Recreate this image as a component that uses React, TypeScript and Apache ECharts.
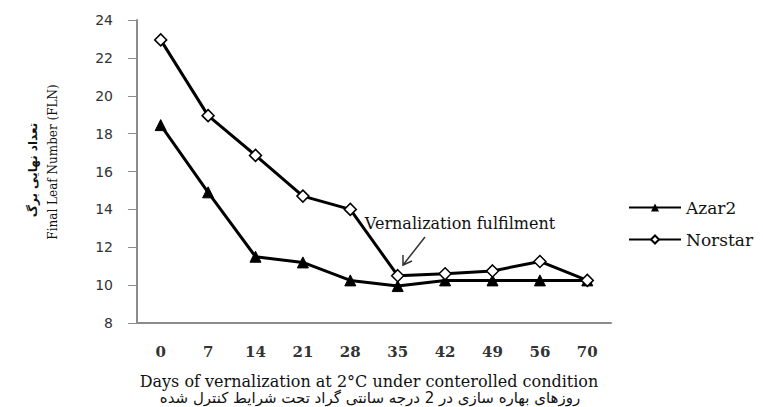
import React, { useEffect, useRef } from "react";
import * as echarts from "echarts";

const categories = ["0", "7", "14", "21", "28", "35", "42", "49", "56", "70"];
const azar2 = [18.45, 14.9, 11.5, 11.2, 10.25, 9.95, 10.25, 10.25, 10.25, 10.25];
const norstar = [22.95, 18.95, 16.85, 14.7, 14.0, 10.5, 10.6, 10.75, 11.25, 10.25];
const yTicks = { min: 8, max: 24, interval: 2 };

const serif = "DejaVu Serif";

export default function App() {
  const ref = useRef<HTMLDivElement>(null);
  useEffect(() => {
    if (!ref.current) return;
    const chart = echarts.init(ref.current, null, { renderer: "svg" });
    chart.setOption({
      animation: false,
      backgroundColor: "#ffffff",
      grid: { left: 137, top: 20, width: 474, height: 303 },
      legend: {
        orient: "vertical",
        left: 623,
        top: 194,
        itemWidth: 52,
        itemHeight: 10,
        itemGap: 15,
        textStyle: { fontFamily: serif, fontSize: 17, color: "#111" },
        data: ["Azar2", "Norstar"],
      },
      xAxis: {
        type: "category",
        data: categories,
        boundaryGap: true,
        axisLine: { lineStyle: { color: "#8c8c8c", width: 2 } },
        axisTick: { alignWithLabel: true, length: 4, interval: 0, lineStyle: { color: "#8c8c8c" } },
        axisLabel: { margin: 21, interval: 0, fontFamily: serif, fontSize: 15, fontWeight: "bold", color: "#333" },
        splitLine: { show: false },
      },
      yAxis: {
        type: "value",
        min: yTicks.min,
        max: yTicks.max,
        interval: yTicks.interval,
        axisLine: { show: true, lineStyle: { color: "#8c8c8c", width: 2 } },
        axisTick: { show: true, length: 9, lineStyle: { color: "#8c8c8c" } },
        axisLabel: { margin: 24, fontFamily: "DejaVu Sans", fontSize: 14, color: "#333" },
        splitLine: { show: false },
      },
      series: [
        {
          name: "Azar2",
          type: "line",
          data: azar2,
          symbol: "triangle",
          symbolSize: 11,
          lineStyle: { color: "#000", width: 3 },
          itemStyle: { color: "#000", borderColor: "#000" },
        },
        {
          name: "Norstar",
          type: "line",
          data: norstar,
          symbol: "diamond",
          symbolSize: 12,
          lineStyle: { color: "#000", width: 3 },
          itemStyle: { color: "#fff", borderColor: "#000", borderWidth: 1.5 },
        },
      ],
      graphic: [
        {
          type: "text",
          x: 460,
          y: 223,
          style: {
            text: "Vernalization fulfilment",
            font: `16px '${serif}'`,
            fill: "#111",
            textAlign: "center",
            textVerticalAlign: "middle",
          },
        },
        {
          type: "line",
          shape: { x1: 425, y1: 237, x2: 403, y2: 265 },
          style: { stroke: "#333", lineWidth: 1.5 },
        },
        {
          type: "polyline",
          shape: { points: [[403, 255], [403, 265], [412, 261]] },
          style: { stroke: "#333", lineWidth: 1.5, fill: null },
        },
        {
          type: "text",
          x: 369,
          y: 381,
          style: {
            text: "Days of vernalization at 2°C under conterolled condition",
            font: `16px '${serif}'`,
            fill: "#111",
            textAlign: "center",
            textVerticalAlign: "middle",
          },
        },
        {
          type: "text",
          x: 370,
          y: 398,
          style: {
            text: "روزهای بهاره سازی در 2 درجه سانتی گراد تحت شرایط کنترل شده",
            font: "15px 'DejaVu Sans'",
            fill: "#111",
            textAlign: "center",
            textVerticalAlign: "middle",
          },
        },
        {
          type: "text",
          x: 53,
          y: 162,
          rotation: Math.PI / 2,
          style: {
            text: "Final Leaf Number (FLN)",
            font: `12px '${serif}'`,
            fill: "#111",
            textAlign: "center",
            textVerticalAlign: "middle",
          },
        },
        {
          type: "text",
          x: 33,
          y: 170,
          rotation: Math.PI / 2,
          style: {
            text: "تعداد نهایی برگ",
            font: "bold 12px 'DejaVu Sans'",
            fill: "#111",
            textAlign: "center",
            textVerticalAlign: "middle",
          },
        },
      ],
    });
    return () => chart.dispose();
  }, []);
  return (
    <div
      ref={ref}
      style={{ position: "fixed", left: 0, top: 0, width: 763, height: 407 }}
    />
  );
}
